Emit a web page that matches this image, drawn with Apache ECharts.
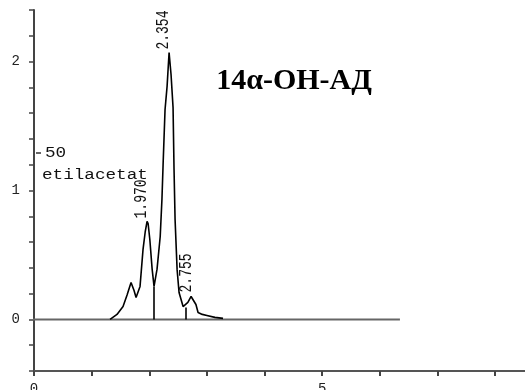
<!DOCTYPE html>
<html>
<head>
<meta charset="utf-8">
<script src="https://cdn.jsdelivr.net/npm/echarts@6/dist/echarts.min.js"></script>
<style>
  html, body { margin: 0; padding: 0; background: #fff; }
  #main { width: 525px; height: 390px; }
</style>
</head>
<body>
<div id="main"></div>
<script>
// chromatogram trace (retention time, min / signal)
const traceTime = [1.32, 1.354, 1.44, 1.545, 1.615, 1.684, 1.736, 1.771, 1.84, 1.892, 1.93, 1.962, 1.98, 2.01, 2.05, 2.083,
  2.135, 2.19, 2.22, 2.24, 2.274, 2.309, 2.344, 2.36, 2.378, 2.413, 2.43, 2.448, 2.483, 2.517, 2.587, 2.62,
  2.67, 2.726, 2.76, 2.81, 2.847, 2.92, 3.0, 3.14, 3.28]
const traceSignal = [0, 0.008, 0.039, 0.10, 0.19, 0.287, 0.225, 0.17, 0.256, 0.543, 0.68, 0.76, 0.744, 0.62, 0.39, 0.256,
  0.39, 0.643, 0.93, 1.20, 1.628, 1.806, 2.07, 2.07, 1.90, 1.643, 1.163, 0.775, 0.388, 0.209, 0.10, 0.093,
  0.132, 0.178, 0.186, 0.116, 0.054, 0.039, 0.031, 0.016, 0.008]
const baseTime = [-0.14, 6.35]
const baseSignal = [0, 0]
// peaks with printed retention times
const peakTimes = [1.970, 2.354, 2.755]
const peakHeights = [0.76, 2.07, 0.186]
const peakNames = ['1.970', '2.354', '2.755']
// peak separation drop lines
const dropTimes = [2.083, 2.64]
const dropHeights = [0.256, 0.093]
const yTickLabels = ['0', '1', '2']
const xTickLabels = ['0', '5']

const chart = echarts.init(document.getElementById('main'))
const monoFont = '"Liberation Mono", "DejaVu Sans Mono", monospace'

const dropLines = dropTimes.map((t, i) => [{ coord: [t, 0] }, { coord: [t, dropHeights[i]] }])

chart.setOption({
  animation: false,
  backgroundColor: '#fff',
  grid: { left: 34, right: 0, top: 10, bottom: 19, containLabel: false, outerBoundsMode: 'none' },
  xAxis: {
    type: 'value',
    min: 0,
    max: 8.52,
    interval: 1,
    splitLine: { show: false },
    axisLine: { onZero: false, lineStyle: { color: '#555', width: 2 } },
    axisTick: { length: 5, lineStyle: { color: '#444', width: 2 } },
    axisLabel: {
      margin: 11,
      color: '#222',
      fontFamily: monoFont,
      fontSize: 14,
      showMaxLabel: false,
      formatter: v => xTickLabels.includes(String(v)) ? String(v) : ''
    }
  },
  yAxis: {
    type: 'value',
    min: -0.4,
    max: 2.4,
    interval: 0.2,
    splitLine: { show: false },
    axisLine: { onZero: false, lineStyle: { color: '#444', width: 2 } },
    axisTick: { length: 5, lineStyle: { color: '#444', width: 1.5 } },
    axisLabel: {
      margin: 14,
      color: '#222',
      fontFamily: monoFont,
      fontSize: 14,
      formatter: v => {
        const s = String(Math.round(v * 10) / 10)
        return yTickLabels.includes(s) ? s : ''
      }
    }
  },
  series: [
    {
      type: 'line',
      data: baseTime.map((t, i) => [t, baseSignal[i]]),
      symbol: 'none',
      clip: false,
      lineStyle: { color: '#666', width: 2 },
      silent: true
    },
    {
      type: 'line',
      data: traceTime.map((t, i) => [t, traceSignal[i]]),
      symbol: 'none',
      lineStyle: { color: '#000', width: 1.6 },
      silent: true,
      markLine: {
        silent: true,
        symbol: 'none',
        label: { show: false },
        lineStyle: { color: '#000', width: 1.6, type: 'solid' },
        data: dropLines
      }
    }
  ]
})

const peakLabels = peakTimes.map((t, i) => {
  const p = chart.convertToPixel({ gridIndex: 0 }, [t, peakHeights[i]])
  return {
    type: 'text',
    x: p[0] - 6,
    y: p[1] - 3,
    rotation: Math.PI / 2,
    scaleY: 1.35,
    style: {
      text: peakNames[i],
      font: '13px ' + monoFont,
      fill: '#111',
      align: 'left',
      verticalAlign: 'middle'
    }
  }
})

chart.setOption({
  graphic: [
    {
      type: 'text',
      x: 294,
      y: 81,
      style: {
        text: '14α-ОН-АД',
        font: 'bold 30px "Liberation Serif", "DejaVu Serif", serif',
        fill: '#000',
        align: 'center',
        verticalAlign: 'middle'
      }
    },
    {
      type: 'line',
      shape: { x1: 36, y1: 153, x2: 41, y2: 153 },
      style: { stroke: '#333', lineWidth: 1.5 }
    },
    {
      type: 'text',
      x: 45,
      y: 153,
      scaleX: 1.26,
      style: { text: '50', font: '14px ' + monoFont, fill: '#111', verticalAlign: 'middle' }
    },
    {
      type: 'text',
      x: 42,
      y: 175,
      scaleX: 1.26,
      style: { text: 'etilacetat', font: '14px ' + monoFont, fill: '#111', verticalAlign: 'middle' }
    }
  ].concat(peakLabels)
})
</script>
</body>
</html>
